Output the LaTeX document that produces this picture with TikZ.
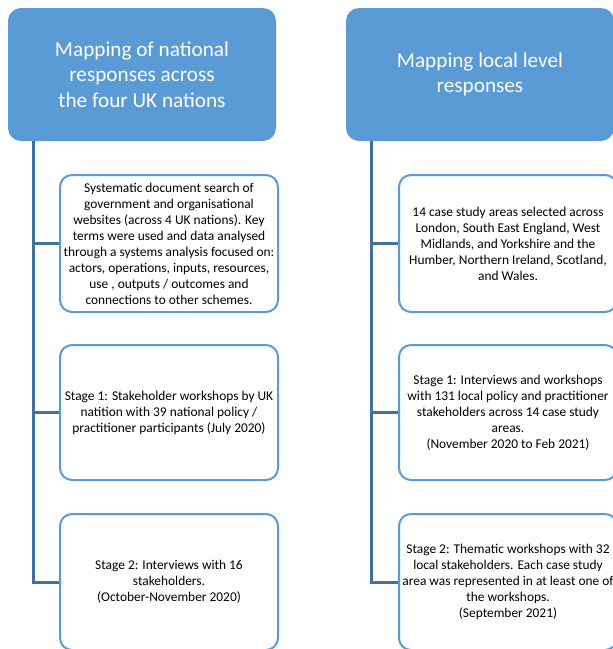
\documentclass[tikz,border=0pt]{standalone}
\usepackage{fontspec}
\setmainfont{Carlito}
\usetikzlibrary{positioning}
\usetikzlibrary{calc}

\definecolor{headblue}{HTML}{5B9BD5}
\definecolor{linkblue}{HTML}{41719C}

\tikzset{
    header/.style={fill=headblue, text=white, rounded corners=13pt, minimum width=268pt, minimum height=133pt, align=center, font=\fontsize{21.2}{25.5}\selectfont},
    stagebox/.style={draw=headblue, line width=2pt, fill=white, rounded corners=12pt, minimum width=218pt, inner sep=1pt, align=center, font=\fontsize{13.4}{16}\selectfont},
    link/.style={draw=linkblue, line width=3pt}
}

\begin{document}
\begin{tikzpicture}[x=1pt, y=-1pt]
    \useasboundingbox (0,0) rectangle (613,649);
    %national
    \node[header] at (142,74.5) (natHead) {Mapping of national\\responses across\\the four UK nations};
    %national desk search
    \node[stagebox, minimum height=137pt] at (169,243.5) (natDocs) {Systematic document search of\\government and organisational\\websites (across 4 UK nations). Key\\terms were used and data analysed\\through a systems analysis focused on:\\actors, operations, inputs, resources,\\use , outputs / outcomes and\\connections to other schemes.};
    %national stage 1
    \node[stagebox, minimum height=135pt] at (169,412.5) (natOne) {Stage 1: Stakeholder workshops by UK\\natition with 39 national policy /\\practitioner participants (July 2020)};
    %national stage 2
    \node[stagebox, minimum height=136pt] at (169,582) (natTwo) {Stage 2: Interviews with 16\\stakeholders.\\(October-November 2020)};

    %local
    \node[header] at (480,74.5) (locHead) {Mapping local level\\responses};
    %local case study areas
    \node[stagebox, minimum height=137pt] at (508,243.5) (locAreas) {14 case study areas selected across\\London, South East England, West\\Midlands, and Yorkshire and the\\Humber, Northern Ireland, Scotland,\\and Wales.};
    %local stage 1
    \node[stagebox, minimum height=135pt] at (508,412.5) (locOne) {Stage 1: Interviews and workshops\\with 131 local policy and practitioner\\stakeholders across 14 case study\\areas.\\(November 2020 to Feb 2021)};
    %local stage 2
    \node[stagebox, minimum height=136pt] at (508,582) (locTwo) {Stage 2: Thematic workshops with 32\\local stakeholders. Each case study\\area was represented in at least one of\\the workshops.\\(September 2021)};



    %national zu stages
    \draw[link] ([xshift=26pt]natHead.south west) |- (natDocs.west);
    \draw[link] ([xshift=26pt]natHead.south west) |- (natOne.west);
    \draw[link] ([xshift=26pt]natHead.south west) |- (natTwo.west);
    %local zu stages
    \draw[link] ([xshift=26pt]locHead.south west) |- (locAreas.west);
    \draw[link] ([xshift=26pt]locHead.south west) |- (locOne.west);
    \draw[link] ([xshift=26pt]locHead.south west) |- (locTwo.west);

\end{tikzpicture}
\end{document}
